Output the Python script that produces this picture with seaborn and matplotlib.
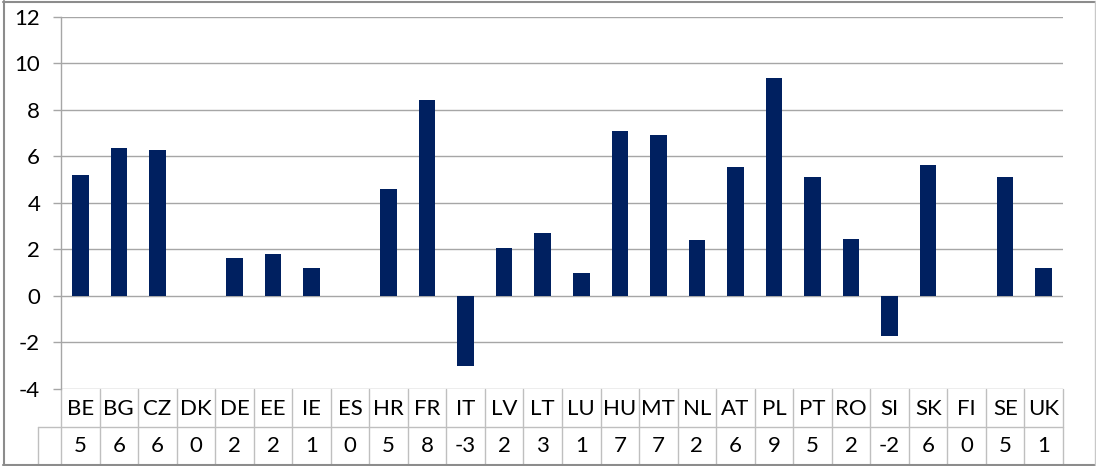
import numpy as np
import pandas as pd
import seaborn as sns
import matplotlib
matplotlib.use("Agg")
import matplotlib.pyplot as plt
from matplotlib.transforms import blended_transform_factory
from matplotlib.lines import Line2D

# Country codes and their values
countries = ["BE", "BG", "CZ", "DK", "DE", "EE", "IE", "ES", "HR", "FR", "IT", "LV", "LT",
             "LU", "HU", "MT", "NL", "AT", "PL", "PT", "RO", "SI", "SK", "FI", "SE", "UK"]
values = [5.22, 6.34, 6.29, 0.0, 1.61, 1.81, 1.21, 0.0, 4.59, 8.41, -3.01, 2.07, 2.70,
          0.99, 7.10, 6.92, 2.38, 5.53, 9.39, 5.11, 2.44, -1.72, 5.64, 0.0, 5.11, 1.21]
# Data-table row shows the values rounded to whole numbers
table_values = [int(round(v)) for v in values]
y_ticks = list(range(-4, 13, 2))

W, H = 1096, 466
BAR = "#002060"
GRID = "#a6a6a6"
CELL = "#bfbfbf"
FS = 16

sns.set_theme(style="white")
plt.rcParams["font.family"] = ["Lato", "DejaVu Sans"]

fig = plt.figure(figsize=(W / 100, H / 100), dpi=100)
x0, x1 = 61, 1063
y_top, y_bot = 17, 388.7
ax = fig.add_axes([x0 / W, 1 - y_bot / H, (x1 - x0) / W, (y_bot - y_top) / H])

df = pd.DataFrame({"country": countries, "value": values})
sns.barplot(data=df, x="country", y="value", color=BAR, saturation=1,
            width=0.43, linewidth=0, ax=ax)

ax.set_xlim(-0.5, len(countries) - 0.5)
ax.set_ylim(-4, 12)
ax.set_yticks(y_ticks)
ax.set_yticklabels([str(t) for t in y_ticks])
ax.set_xticks([])
ax.set_xlabel("")
ax.set_ylabel("")
for side in ["top", "right", "bottom"]:
    ax.spines[side].set_visible(False)
ax.spines["left"].set_color(GRID)
ax.spines["left"].set_linewidth(1.0)
ax.yaxis.grid(True, color=GRID, linewidth=1.0)
ax.set_axisbelow(True)
ax.tick_params(axis="y", left=True, length=6, width=1.0, color=GRID,
               pad=9, labelsize=FS, labelcolor="black")

# Data table under the plot: x in category units, y in figure pixels
tr = blended_transform_factory(ax.transData, fig.transFigure)
def fy(px):
    return 1 - px / H

row_mid = 426.7
row_end = 463.5
key_left = -0.5 - (x0 - 38) * len(countries) / (x1 - x0)

ax.plot([key_left, len(countries) - 0.5], [fy(row_mid)] * 2, transform=tr,
        color=CELL, lw=1.0, clip_on=False)
for i in range(len(countries) + 1):
    ax.plot([i - 0.5] * 2, [fy(y_bot), fy(row_end)], transform=tr,
            color=CELL, lw=1.0, clip_on=False)
ax.plot([key_left] * 2, [fy(row_mid), fy(row_end)], transform=tr,
        color=CELL, lw=1.0, clip_on=False)

for i, (c, v) in enumerate(zip(countries, table_values)):
    ax.text(i, fy((y_bot + row_mid) / 2 + 1), c, transform=tr, ha="center",
            va="center", fontsize=FS, color="black", clip_on=False)
    ax.text(i, fy((row_mid + row_end) / 2 + 1), str(v), transform=tr, ha="center",
            va="center", fontsize=FS, color="black", clip_on=False)

# Chart frame
def px_line(xs, ys, color, lw):
    fig.add_artist(Line2D([x / W for x in xs], [fy(y) for y in ys],
                          color=color, lw=lw, transform=fig.transFigure))

px_line([3.5, 3.5], [1, 465], "#8c8c8c", 1.5)
px_line([3, 1096], [1.5, 1.5], "#8c8c8c", 1.5)
px_line([3, 1096], [464.5, 464.5], "#8c8c8c", 1.5)
px_line([1094.5, 1094.5], [1, 465], "#c8c8c8", 1.0)

fig.savefig("out.png", dpi=100)
